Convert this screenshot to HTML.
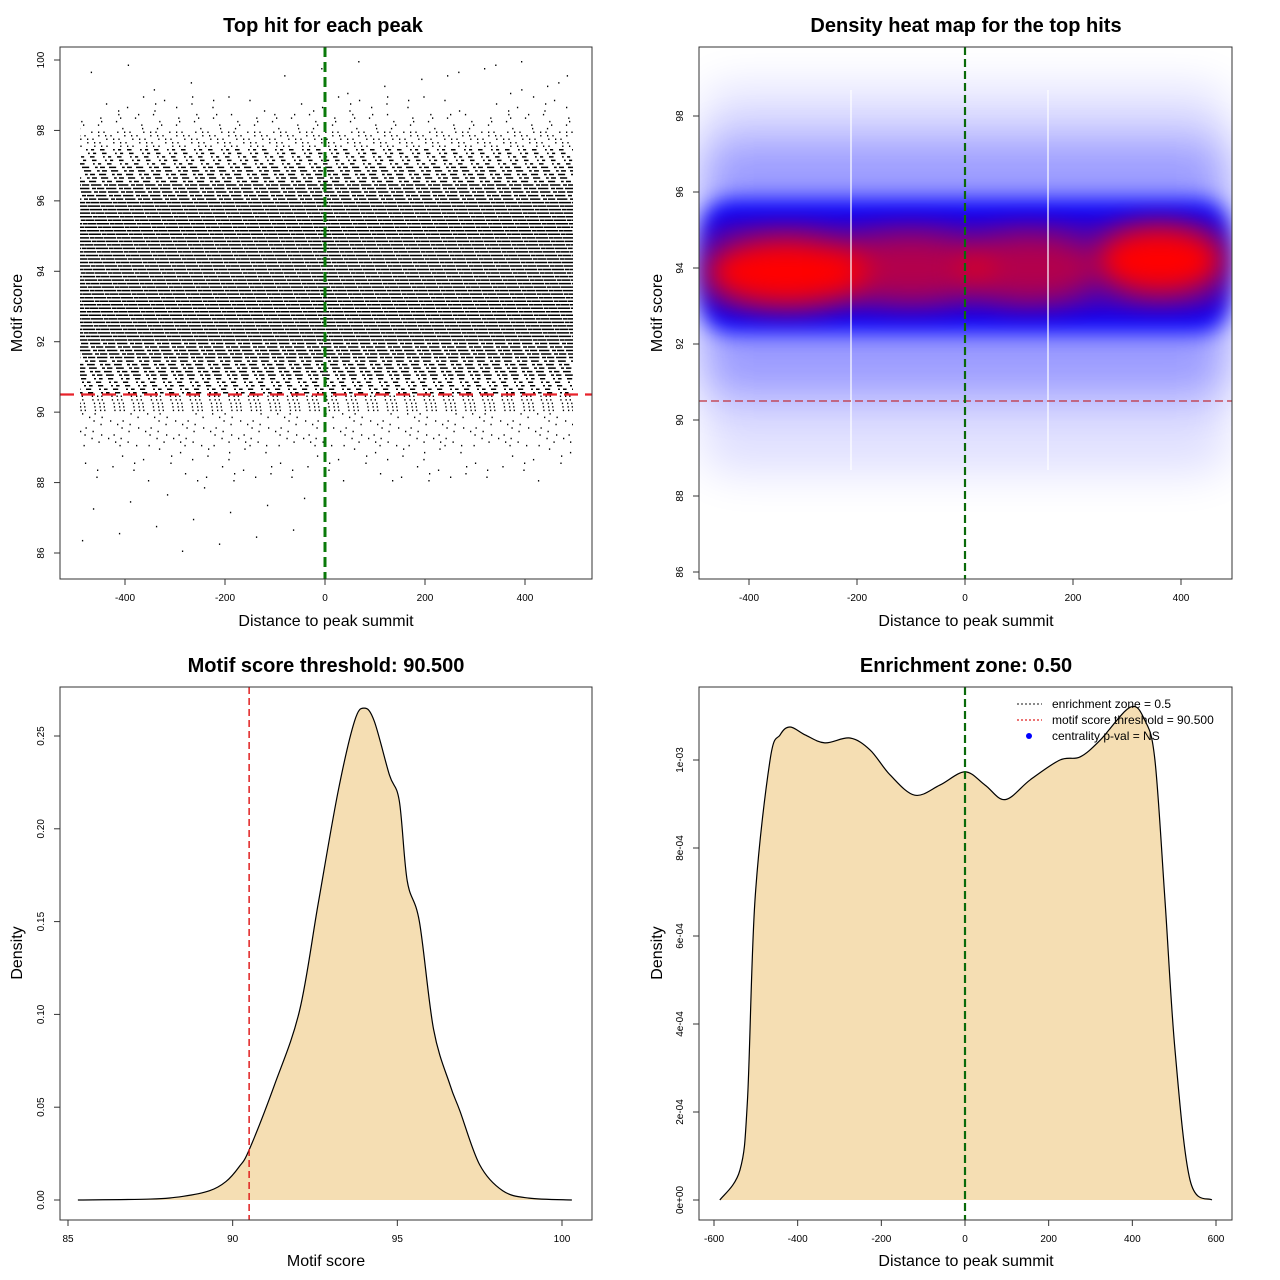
<!DOCTYPE html>
<html><head><meta charset="utf-8"><style>
html,body{margin:0;padding:0;background:#fff;}
svg{display:block;font-family:"Liberation Sans",Arial,sans-serif;}
</style></head><body>
<svg id="c" width="1280" height="1280" xmlns="http://www.w3.org/2000/svg">
<defs>
<filter id="b6" x="-20%" y="-60%" width="140%" height="220%"><feGaussianBlur stdDeviation="11"/></filter>
<filter id="b12" x="-30%" y="-80%" width="160%" height="260%"><feGaussianBlur stdDeviation="14"/></filter>
<filter id="b20" x="-20%" y="-80%" width="140%" height="260%"><feGaussianBlur stdDeviation="22"/></filter>
<clipPath id="clipHeat"><rect x="699" y="47" width="533" height="532"/></clipPath>
</defs>
</svg>
<script>
// ---------- data ----------
const scatterLevelsStart = [86,88,89,90,90.5,91,91.5,92,96,96.5,97,97.5,98,98.5,99];
const scatterLevelsEnd   = [88,89,90,90.5,91,91.5,92,96,96.5,97,97.5,98,98.5,99,100];
const scatterFill        = [0.003,0.02,0.06,0.2,0.4,0.6,0.8,0.94,0.8,0.55,0.35,0.15,0.05,0.02,0.006];
const threshold = 90.5;
const heatBandLo = [88.6, 90.6, 92.3, 92.8];
const heatBandHi = [98.8, 97.4, 95.8, 95.3];
const heatBandOpacity = [0.12, 0.3, 1, 0.5];
const redBlobX = [-330, -100, 120, 360];
const redBlobY = [93.9, 94.0, 94.0, 94.2];
const redBlobW = [150, 150, 130, 120];
const redBlobOpacity = [1, 0.6, 0.6, 1];
const scoreX = [85.3,87.5,88.5,89.3,89.8,90.2,90.5,91.27,92.03,92.6,93.2,93.7,94,94.3,94.76,95.06,95.3,95.67,96.1,96.6,96.9,97.5,98.2,99,100.3];
const scoreD = [0,0.0005,0.002,0.005,0.01,0.018,0.027,0.062,0.102,0.16,0.22,0.258,0.265,0.258,0.229,0.215,0.172,0.15,0.092,0.062,0.048,0.019,0.005,0.001,0];
const distX = [-586,-538,-520,-502,-466,-442,-418,-382,-335,-275,-227,-179,-120,-60,0,48,96,156,227,275,323,395,430,454,478,502,538,590];
const distD = [0,0.068,0.227,0.682,1.0,1.057,1.075,1.057,1.039,1.05,1.023,0.966,0.92,0.943,0.973,0.943,0.91,0.955,1.0,1.007,1.045,1.12,1.09,1.0,0.682,0.341,0.045,0];
const xt1=[-400,-200,0,200,400], yt1=[86,88,90,92,94,96,98,100];
const yt2=[86,88,90,92,94,96,98];
const xt3=[85,90,95,100], yt3=[0,0.05,0.10,0.15,0.20,0.25], yt3L=["0.00","0.05","0.10","0.15","0.20","0.25"];
const xt4=[-600,-400,-200,0,200,400,600], yt4=[0,0.2,0.4,0.6,0.8,1.0], yt4L=["0e+00","2e-04","4e-04","6e-04","8e-04","1e-03"];

// ---------- helpers ----------
const svg=document.getElementById('c'); const NS="http://www.w3.org/2000/svg";
function el(tag,attrs,parent){const e=document.createElementNS(NS,tag);for(const k in attrs)e.setAttribute(k,attrs[k]);(parent||svg).appendChild(e);return e;}
function txt(s,x,y,size,opt,parent){const t=el('text',Object.assign({x:x,y:y,'font-size':size,'text-anchor':'middle',fill:'#000'},opt||{}),parent);t.textContent=s;return t;}
function lin(d0,d1,p0,p1){return v=>p0+(v-d0)*(p1-p0)/(d1-d0);}
function axes(box,xs,xticks,xlabels,ys,yticks,ylabels,g){
  const r=el('rect',{x:box[0],y:box[1],width:box[2]-box[0],height:box[3]-box[1],fill:'none',stroke:'#333','stroke-width':1},g);
  
  
  const xa=el('g',{},g);
  
  
  xticks.forEach((v,i)=>{const x=xs(v);el('line',{x1:x,x2:x,y1:box[3],y2:box[3]+6,stroke:'#333'},xa);
    const t=txt(xlabels[i],x,box[3]+22,10,{},xa);});
  const ya=el('g',{},g);
  
  
  yticks.forEach((v,i)=>{const y=ys(v);el('line',{x1:box[0]-6,x2:box[0],y1:y,y2:y,stroke:'#333'},ya);
    const t=txt(ylabels[i],box[0]-16,y,10,{transform:`rotate(-90 ${box[0]-16} ${y})`},ya);});
}
function titles(g,title,tx,ty,xl,xlx,xly,yl,ylx,yly){
  const t=txt(title,tx,ty,20,{'font-weight':'bold'},g);
  const a=txt(xl,xlx,xly,16,{},g);
  const b=txt(yl,ylx,yly,16,{transform:`rotate(-90 ${ylx} ${yly})`},g);
}

// ---------- panel 1: scatter ----------
(function(){
  const g=el('g',{});
  const xs=lin(0,400,325,525), ys=lin(100,86,60,553);
  const dots=el('g',{},g);
  let row=0;
  scatterFill.forEach((f,i)=>{
    for(let s=scatterLevelsStart[i]; s<scatterLevelsEnd[i]-1e-6; s+=0.1){
      row++;
      const y=ys(s+0.05);
      let da;
      if(f>=0.3){const a=9,b=13;da=`${a*f} ${a*(1-f)} ${b*f} ${b*(1-f)} ${5*f} ${5*(1-f)}`;}
      else {const gap=1.3/f-1.3;da=`1.3 ${gap*0.55} 1.3 ${gap*1.7} 1.3 ${gap*0.75}`;}
      const l=el('line',{x1:xs(-490),x2:xs(496),y1:y,y2:y,stroke:'#000','stroke-width':1.5,'stroke-dasharray':da,'stroke-dashoffset':(row*137)%311},dots);
      
      
    }
  });
  const th=el('line',{x1:60,x2:592,y1:ys(threshold),y2:ys(threshold),stroke:'#e8222a','stroke-width':2.2,'stroke-dasharray':'14 7'},g);
  
  const c=el('line',{x1:xs(0),x2:xs(0),y1:47,y2:579,stroke:'#0a7a0a','stroke-width':3,'stroke-dasharray':'10 5'},g);
  
  axes([60,47,592,579],xs,xt1,xt1.map(String),ys,yt1,yt1.map(String),g);
  titles(g,'Top hit for each peak',323,32,'Distance to peak summit',326,626,'Motif score',22,313);
})();

// ---------- panel 2: heatmap ----------
(function(){
  const g=el('g',{});
  const xs=lin(0,400,965,1181), ys=lin(98,86,116,572);
  const h=el('g',{'clip-path':'url(#clipHeat)'},g);
  heatBandLo.forEach((lo,i)=>{
    const col=i===3?'#800080':'#0000ff';
    const r=el('rect',{x:xs(-490),y:ys(heatBandHi[i]),width:xs(490)-xs(-490),height:ys(lo)-ys(heatBandHi[i]),rx:30,fill:col,opacity:heatBandOpacity[i],filter:i<2?'url(#b20)':'url(#b6)'},h);
    
  });
  redBlobX.forEach((x,i)=>{
    const e=el('ellipse',{cx:xs(x),cy:ys(redBlobY[i]),rx:(xs(redBlobW[i])-xs(0)),ry:ys(93.2)-ys(94.1),fill:'#ff0000',opacity:redBlobOpacity[i],filter:'url(#b12)'},h);
    
  });
  [851,1048].forEach(x=>{const l=el('line',{x1:x,x2:x,y1:90,y2:470,stroke:'#fff','stroke-width':1.2},h);});
  const th=el('line',{x1:699,x2:1232,y1:ys(threshold),y2:ys(threshold),stroke:'#c0303a','stroke-width':1.3,'stroke-dasharray':'8 4'},g);
  
  const c=el('line',{x1:xs(0),x2:xs(0),y1:47,y2:579,stroke:'#0a6a0a','stroke-width':2.2,'stroke-dasharray':'8 4'},g);
  
  axes([699,47,1232,579],xs,xt1,xt1.map(String),ys,yt2,yt2.map(String),g);
  titles(g,'Density heat map for the top hits',966,32,'Distance to peak summit',966,626,'Motif score',662,313);
})();

function smoothPath(pts){
  let d=`M${pts[0][0]},${pts[0][1]}`;
  for(let i=0;i<pts.length-1;i++){
    const p0=pts[Math.max(0,i-1)],p1=pts[i],p2=pts[i+1],p3=pts[Math.min(pts.length-1,i+2)];
    d+=` C${p1[0]+(p2[0]-p0[0])/6},${p1[1]+(p2[1]-p0[1])/6} ${p2[0]-(p3[0]-p1[0])/6},${p2[1]-(p3[1]-p1[1])/6} ${p2[0]},${p2[1]}`;
  }
  return d;
}

// ---------- panel 3: score density ----------
(function(){
  const g=el('g',{});
  const xs=lin(85,100,68,562), ys=lin(0,0.25,1200,736);
  const pts=scoreX.map((x,i)=>[xs(x),ys(scoreD[i])]);
  const d=smoothPath(pts);
  const a=el('path',{d:d+` L${pts[pts.length-1][0]},${ys(0)} L${pts[0][0]},${ys(0)} Z`,fill:'#f5deb3',stroke:'none'},g);
  
  const l=el('path',{d:d,fill:'none',stroke:'#000','stroke-width':1.2},g);
  
  const th=el('line',{x1:xs(threshold),x2:xs(threshold),y1:687,y2:1220,stroke:'#e02020','stroke-width':1.5,'stroke-dasharray':'7 4'},g);
  
  axes([60,687,592,1220],xs,xt3,xt3.map(String),ys,yt3,yt3L,g);
  titles(g,'Motif score threshold: 90.500',326,672,'Motif score',326,1266,'Density',22,953);
})();

// ---------- panel 4: distance density ----------
(function(){
  const g=el('g',{});
  const xs=lin(0,600,965,1216), ys=lin(0,1.0,1200,760);
  const pts=distX.map((x,i)=>[xs(x),ys(distD[i])]);
  const d=smoothPath(pts);
  const a=el('path',{d:d+` L${pts[pts.length-1][0]},${ys(0)} L${pts[0][0]},${ys(0)} Z`,fill:'#f5deb3'},g);
  
  const l=el('path',{d:d,fill:'none',stroke:'#000','stroke-width':1.2},g);
  
  const c=el('line',{x1:xs(0),x2:xs(0),y1:687,y2:1220,stroke:'#0a6a0a','stroke-width':2.2,'stroke-dasharray':'8 4'},g);
  
  axes([699,687,1232,1220],xs,xt4,xt4.map(String),ys,yt4,yt4L,g);
  titles(g,'Enrichment zone: 0.50',966,672,'Distance to peak summit',966,1266,'Density',662,953);
  const lg=el('g',{},g);
  const items=[['enrichment zone = 0.5','#444'],['motif score threshold = 90.500','#e02020'],['centrality p-val = NS','#0000ff']];
  items.forEach((it,i)=>{
    const y=704+i*16;
    if(i<2){const m=el('line',{x1:1017,x2:1042,y1:y,y2:y,stroke:it[1],'stroke-width':1.2,'stroke-dasharray':'2 2'},lg);}
    else {const m=el('circle',{cx:1029,cy:y,r:3,fill:it[1]},lg);}
    const t=txt(it[0],1052,y+4,12,{'text-anchor':'start'},lg);
  });
})();
</script>
</body></html>
